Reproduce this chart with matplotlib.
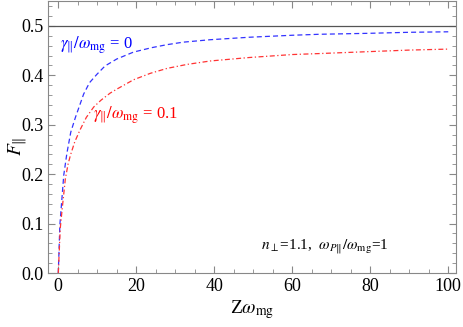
import matplotlib
matplotlib.use("Agg")
import matplotlib.pyplot as plt
from matplotlib.ticker import MultipleLocator, FormatStrFormatter

plt.rcParams["font.family"] = ["Liberation Serif", "DejaVu Serif"]
plt.rcParams["mathtext.fontset"] = "stix"

# values
x_blue = [0, 0.4, 1.4, 2.2, 3.2, 4.4, 6.5, 8.0, 9.9, 12.0, 15.0, 19.3,
          24.0, 27.9, 32.0, 39.0, 49.0, 60.0, 67.0, 80.0, 90.0, 100.0]
y_blue = [0, 0.097, 0.198, 0.242, 0.285, 0.315, 0.362, 0.385, 0.402, 0.419,
          0.433, 0.447, 0.456, 0.462, 0.467, 0.472, 0.477, 0.481, 0.483,
          0.485, 0.487, 0.488]
x_red = [0, 0.5, 1.0, 1.8, 2.5, 3.1, 4.2, 5.6, 7.2, 9.1, 11.0, 13.3, 15.0,
         19.3, 23.6, 27.9, 33.0, 39.0, 49.0, 60.0, 67.0, 80.0, 90.0, 100.0]
y_red = [0, 0.09, 0.13, 0.19, 0.22, 0.238, 0.265, 0.29, 0.315, 0.336, 0.35,
         0.364, 0.372, 0.391, 0.404, 0.414, 0.422, 0.429, 0.436, 0.442,
         0.444, 0.448, 0.451, 0.453]
limit = 0.5

fig = plt.figure(figsize=(4.63, 3.27), dpi=100)
ax = fig.add_axes([0.104, 0.165, 0.881, 0.833])

ax.axhline(limit, color="#555555", lw=0.9)
ax.plot(x_blue, y_blue, color="#3333ff", lw=0.9, dashes=(4, 2.5))
ax.plot(x_red, y_red, color="#ff3333", lw=0.9, dashes=(4, 2, 1, 2))

ax.text(0.5, 0.46, r"$\gamma_{\|}/\omega_{\rm mg}$ = 0", color="#0000ff",
        fontsize=12, va="center")
ax.text(9.0, 0.319, r"$\gamma_{\|}/\omega_{\rm mg}$ = 0.1", color="#ff0000",
        fontsize=12, va="center")
ax.text(52, 0.052, r"$n_{\perp}$=1.1,  $\omega_{P\|}/\omega_{\rm mg}$=1",
        fontsize=11, va="center")

ax.set_xlim(-2.6, 102)
ax.set_ylim(0, 0.551)
ax.xaxis.set_major_locator(MultipleLocator(20))
ax.xaxis.set_minor_locator(MultipleLocator(5))
ax.yaxis.set_major_locator(MultipleLocator(0.1))
ax.yaxis.set_minor_locator(MultipleLocator(0.02))
ax.yaxis.set_major_formatter(FormatStrFormatter("%.1f"))
ax.tick_params(which="both", direction="in", top=True, right=True,
               color="#888888", labelsize=13)
ax.tick_params(which="major", length=5)
ax.tick_params(which="minor", length=3)
for s in ax.spines.values():
    s.set_color("#888888")

ax.set_xlabel(r"Z$\omega_{\rm mg}$", fontsize=14, labelpad=2)
fig.text(18 / 463, 0.553, r"$F_{\|}$", fontsize=14, rotation=90,
         ha="center", va="center")

fig.savefig("out.png", dpi=100, facecolor="white")
